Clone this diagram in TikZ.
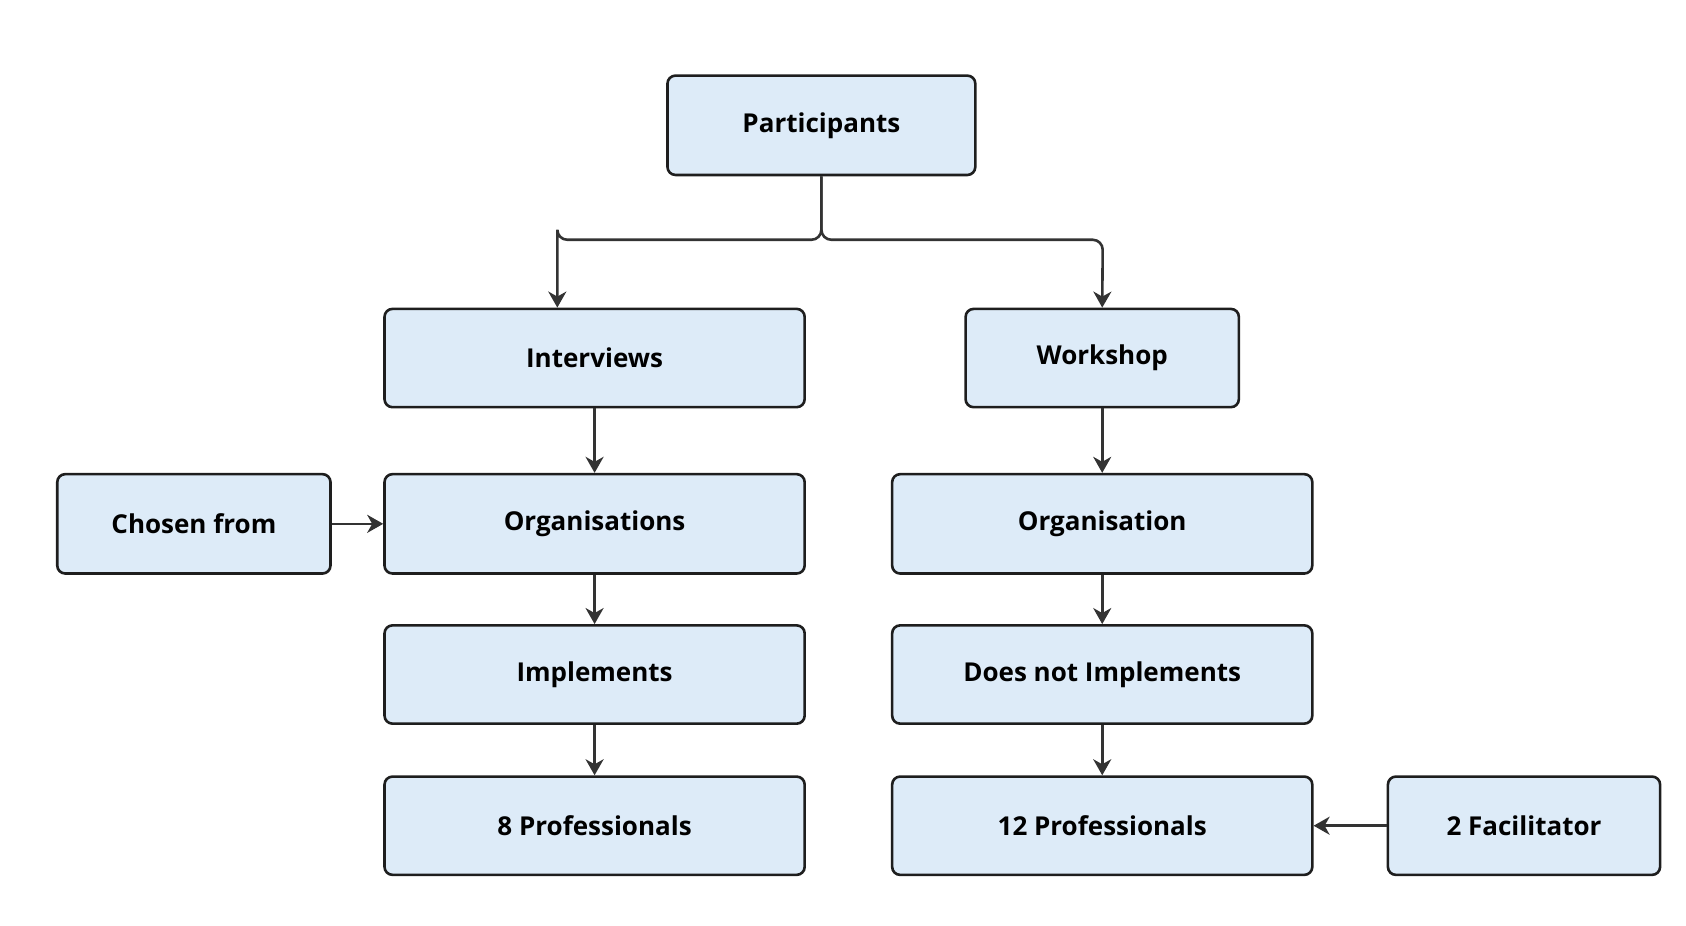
\documentclass[tikz,border=0pt]{standalone}
\usepackage{fontspec}
\setmainfont{Open Sans}
\usetikzlibrary{arrows.meta}
\definecolor{boxfill}{HTML}{DDEBF8}
\definecolor{edge}{HTML}{1E1E1E}
\definecolor{arr}{HTML}{333333}
\begin{document}
\begin{tikzpicture}[x=1.08pt,y=-1.08pt,
 box/.style={draw=edge,fill=boxfill,line width=2.6pt,rounded corners=8pt,inner sep=0pt,font=\fontsize{26}{30}\selectfont\bfseries},
 arw/.style={draw=arr,line width=2.6pt,-{Stealth[length=16pt,width=18pt,inset=5pt]}}]
\useasboundingbox (0,0) rectangle (1561,857);
\newcommand{\bx}[6]{\node[box,minimum width={(#4-#3)*1.08pt},minimum height={(#6-#5)*1.08pt}] (#1) at ({(#3+#4)/2},{(#5+#6)/2}) {#2};}
\bx{part}{Participants}{618}{903}{70}{162}
\bx{int}{Interviews}{356}{745}{286}{377}
\bx{work}{Workshop}{894}{1147}{286}{377}
\bx{chosen}{Chosen from}{53}{306}{439}{531}
\bx{orgs}{Organisations}{356}{745}{439}{531}
\bx{org}{Organisation}{826}{1215}{439}{531}
\bx{impl}{Implements}{356}{745}{579}{670}
\bx{noimpl}{Does not Implements}{826}{1215}{579}{670}
\bx{eight}{8 Professionals}{356}{745}{719}{810}
\bx{twelve}{12 Professionals}{826}{1215}{719}{810}
\bx{fac}{2 Facilitator}{1285}{1537}{719}{810}
\draw[arw,rounded corners=10pt] (part.south) |- (516,222) -- (516,222) -- (int.north -| 516,0);
\draw[arw,rounded corners=10pt] (part.south) |- (1021,222) -- (work.north);
\draw[arw] (int) -- (orgs);
\draw[arw] (orgs) -- (impl);
\draw[arw] (impl) -- (eight);
\draw[arw] (work) -- (org);
\draw[arw] (org) -- (noimpl);
\draw[arw] (noimpl) -- (twelve);
\draw[arw] (chosen) -- (orgs);
\draw[arw] (fac) -- (twelve);
\end{tikzpicture}
\end{document}
